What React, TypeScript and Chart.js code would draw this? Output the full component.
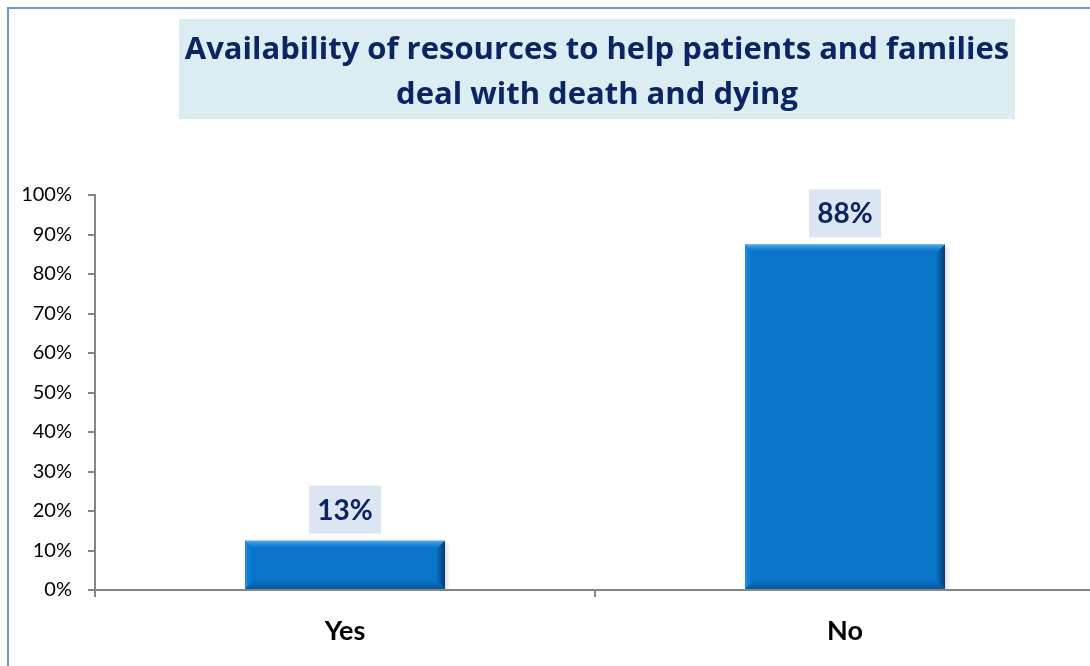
import React, { useEffect, useRef } from "react";
import { Chart, registerables } from "chart.js";

Chart.register(...registerables);

const categories = ["Yes", "No"];
const values = [12.5, 87.5];
const yTicks = [0, 10, 20, 30, 40, 50, 60, 70, 80, 90, 100];
const titleLines = [
  "Availability of resources to help patients and families",
  "deal with death and dying",
];

const FONT = "Lato, 'Open Sans', sans-serif";
const TITLE_FONT = "'Open Sans', Lato, sans-serif";
const NAVY = "#0d2463";

const framePlugin = {
  id: "frame",
  beforeDraw(chart: any) {
    const ctx = chart.ctx;
    ctx.save();
    ctx.fillStyle = "#ffffff";
    ctx.fillRect(0, 0, chart.width, chart.height);
    ctx.strokeStyle = "#6f96cc";
    ctx.lineWidth = 2;
    ctx.strokeRect(8, 8, chart.width + 20, chart.height + 20);
    // title box
    ctx.fillStyle = "#dbedf3";
    ctx.fillRect(179, 19, 836, 100);
    ctx.fillStyle = NAVY;
    ctx.font = `bold 31px ${TITLE_FONT}`;
    ctx.textAlign = "center";
    ctx.textBaseline = "middle";
    ctx.fillText(titleLines[0], 597, 50);
    ctx.fillText(titleLines[1], 597, 95);
    ctx.restore();
  },
};

const barDecorPlugin = {
  id: "barDecor",
  afterDatasetsDraw(chart: any) {
    const ctx = chart.ctx;
    const meta = chart.getDatasetMeta(0);
    ctx.save();
    meta.data.forEach((bar: any, i: number) => {
      const left = bar.x - bar.width / 2;
      const right = bar.x + bar.width / 2;
      const top = bar.y;
      const bottom = bar.base;
      const h = bottom - top;
      const bev = Math.min(9, h / 3);
      // top bevel
      let g = ctx.createLinearGradient(0, top, 0, top + bev);
      g.addColorStop(0, "#55b0f5");
      g.addColorStop(1, "rgba(10,116,200,0)");
      ctx.fillStyle = g;
      ctx.beginPath();
      ctx.moveTo(left, top);
      ctx.lineTo(right, top);
      ctx.lineTo(right - bev, top + bev);
      ctx.lineTo(left + bev, top + bev);
      ctx.closePath();
      ctx.fill();
      // right dark edge
      g = ctx.createLinearGradient(right - bev, 0, right, 0);
      g.addColorStop(0, "rgba(3,60,110,0)");
      g.addColorStop(1, "#033a6e");
      ctx.fillStyle = g;
      ctx.beginPath();
      ctx.moveTo(right, top);
      ctx.lineTo(right, bottom);
      ctx.lineTo(right - bev, bottom - bev);
      ctx.lineTo(right - bev, top + bev);
      ctx.closePath();
      ctx.fill();
      // bottom dark edge
      g = ctx.createLinearGradient(0, bottom - bev, 0, bottom);
      g.addColorStop(0, "rgba(5,80,150,0)");
      g.addColorStop(1, "#055a9e");
      ctx.fillStyle = g;
      ctx.beginPath();
      ctx.moveTo(left, bottom);
      ctx.lineTo(right, bottom);
      ctx.lineTo(right - bev, bottom - bev);
      ctx.lineTo(left + bev, bottom - bev);
      ctx.closePath();
      ctx.fill();
      // left light edge
      g = ctx.createLinearGradient(left, 0, left + bev, 0);
      g.addColorStop(0, "#2a8ee0");
      g.addColorStop(1, "rgba(10,116,200,0)");
      ctx.fillStyle = g;
      ctx.beginPath();
      ctx.moveTo(left, top);
      ctx.lineTo(left, bottom);
      ctx.lineTo(left + bev, bottom - bev);
      ctx.lineTo(left + bev, top + bev);
      ctx.closePath();
      ctx.fill();
      // shadow to the right
      g = ctx.createLinearGradient(right, 0, right + 6, 0);
      g.addColorStop(0, "rgba(0,0,0,0.12)");
      g.addColorStop(1, "rgba(0,0,0,0)");
      ctx.fillStyle = g;
      ctx.fillRect(right, top + 3, 6, h - 3);

      // data label
      const label = Math.round(values[i]) + "%";
      const bw = 72;
      const bh = 48;
      const by = top - 7 - bh;
      ctx.fillStyle = "#dce6f2";
      ctx.fillRect(bar.x - bw / 2, by, bw, bh);
      ctx.fillStyle = NAVY;
      ctx.font = `bold 28px ${FONT}`;
      ctx.textAlign = "center";
      ctx.textBaseline = "middle";
      ctx.fillText(label, bar.x, by + bh / 2 + 1);
    });
    ctx.restore();
  },
};

export default function App() {
  const ref = useRef<HTMLCanvasElement>(null);
  useEffect(() => {
    if (!ref.current) return;
    const chart = new Chart(ref.current, {
      type: "bar",
      data: {
        labels: categories,
        datasets: [
          {
            data: values,
            backgroundColor: "#0a74c8",
            borderWidth: 0,
            barPercentage: 0.4,
            categoryPercentage: 1,
          },
        ],
      },
      options: {
        animation: false,
        responsive: false,
        maintainAspectRatio: false,
        layout: { padding: { left: 0, top: 195, right: 15, bottom: 0 } },
        plugins: {
          legend: { display: false },
          tooltip: { enabled: false },
          title: { display: false },
        },
        scales: {
          x: {
            grid: {
              display: true,
              drawOnChartArea: false,
              drawTicks: true,
              tickLength: 7,
              offset: true,
              color: "#868686",
              lineWidth: 2,
            },
            border: { display: true, color: "#868686", width: 2 },
            ticks: {
              color: "#000000",
              font: { family: FONT, size: 27, weight: "bold" },
              padding: 18,
            },
            afterFit: (s: any) => {
              s.height = 90;
            },
          },
          y: {
            min: 0,
            max: 100,
            afterBuildTicks: (s: any) => {
              s.ticks = yTicks.map((v) => ({ value: v }));
            },
            grid: {
              display: true,
              drawOnChartArea: false,
              drawTicks: true,
              tickLength: 7,
              color: "#868686",
              lineWidth: 2,
            },
            border: { display: true, color: "#868686", width: 2 },
            ticks: {
              color: "#000000",
              font: { family: FONT, size: 20 },
              padding: 16,
              callback: (v: any) => v + "%",
            },
            afterFit: (s: any) => {
              s.width = 95;
            },
          },
        },
      },
      plugins: [framePlugin, barDecorPlugin],
    });
    return () => chart.destroy();
  }, []);
  return (
    <div
      style={{
        position: "fixed",
        left: 0,
        top: 0,
        width: 1090,
        height: 666,
        overflow: "hidden",
        background: "#fff",
      }}
    >
      <canvas ref={ref} width={1110} height={680} style={{ display: "block" }} />
    </div>
  );
}
